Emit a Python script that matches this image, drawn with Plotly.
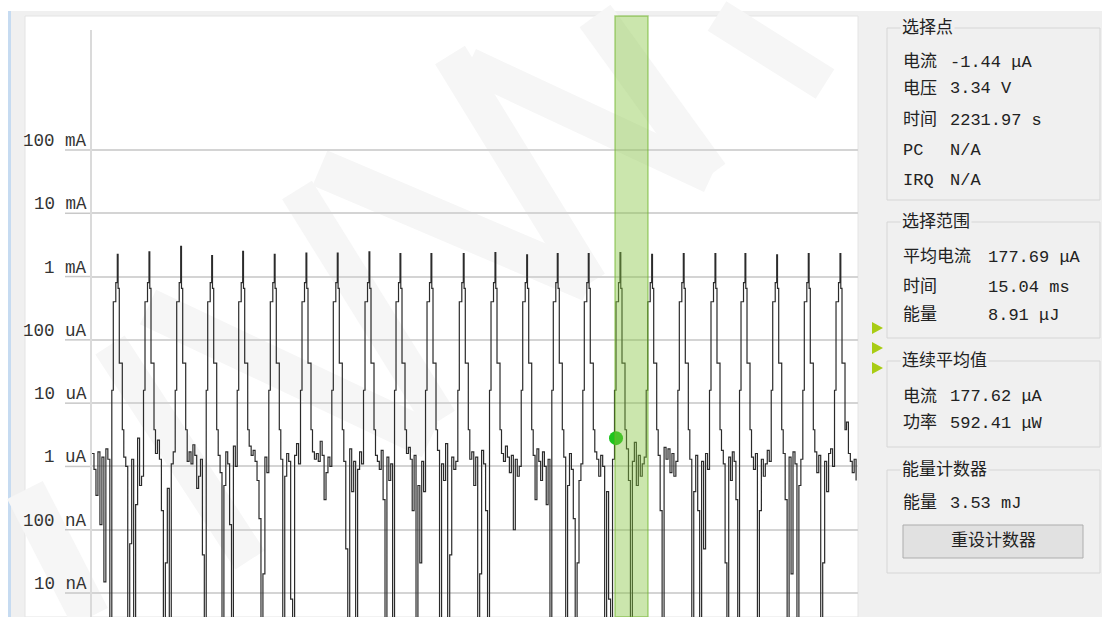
import math
import plotly.graph_objects as go

# ---------------- data ----------------
# pulse peak times (ms) and tip currents (mA)
peak_ms = [11.53, 25.98, 40.43, 54.56, 68.69, 83.09, 97.54, 111.81, 126.26, 140.39,
           154.52, 169.24, 183.69, 198.14, 212.08, 226.21, 240.66, 255.11, 269.52,
           283.96, 297.64, 312.09, 326.49, 340.94]
tip_mA = [2.25, 2.45, 3.0, 2.15, 2.5, 2.25, 2.35, 2.35, 2.45, 2.3, 2.3, 2.3, 2.4,
          2.2, 2.3, 2.3, 2.4, 2.25, 2.3, 2.3, 2.3, 2.2, 2.3, 2.3]
# pulse edge (time offset from peak in ms, current in uA; None = tip)
pulse_off_ms = [-2.5, -1.82, -0.68, 0.0, 0.36, 0.91, 2.28]
pulse_uA = [16, 400, 800, None, 650, 43, 3.8]
pulse_end_ms = 2.96
# baseline samples between pulses (uA); 0.001 = dips below the chart
gap_uA = [
    [1.6, 0.9, 0.35, 1.7, 0.12, 1.4, 0.015, 1.9, 1.3, 0.001],
    [1.4, 1.0, 0.001, 0.06, 1.3, 0.001, 0.25, 2.8, 0.5, 0.7],
    [1.6, 2.6, 1.3, 0.2, 0.001, 0.03, 0.45, 0.001, 1.1, 1.7],
    [1.2, 1.7, 1.1, 2.2, 1.5, 0.45, 0.7, 1.3, 0.04, 0.001],
    [1.5, 0.8, 0.001, 0.5, 1.7, 1.1, 0.12, 0.001, 2.1, 1.0],
    [2.1, 1.5, 1.8, 1.2, 0.6, 0.15, 0.001, 0.02, 1.4, 0.8],
    [1.3, 0.001, 0.7, 1.6, 1.2, 0.008, 0.001, 1.5, 2.3, 1.1],
    [1.7, 1.3, 1.6, 1.2, 2.5, 1.5, 0.3, 0.8, 1.4, 1.0],
    [1.2, 0.05, 0.001, 1.9, 0.4, 1.2, 0.001, 0.9, 1.7, 1.1],
    [1.5, 1.2, 0.9, 1.8, 0.3, 0.001, 1.4, 0.6, 1.1, 0.001],
    [1.6, 2.0, 1.3, 0.2, 1.5, 0.001, 0.5, 0.03, 1.2, 0.4],
    [1.8, 0.001, 1.1, 0.6, 2.3, 0.001, 0.04, 1.4, 0.9, 1.2],
    [1.3, 1.7, 0.5, 1.4, 0.001, 0.02, 1.8, 1.1, 0.2, 0.001],
    [1.6, 1.2, 2.1, 1.4, 0.8, 1.5, 0.1, 1.3, 0.7, 1.0],
    [1.5, 0.3, 1.9, 1.2, 0.6, 1.7, 1.0, 0.25, 1.3, 0.001],
    [1.4, 0.001, 0.5, 1.6, 0.9, 0.15, 0.001, 0.03, 0.6, 1.1],
    [1.7, 1.3, 0.7, 1.5, 1.0, 0.001, 0.4, 0.008, 0.001, 1.3],
    [1.9, 0.6, 0.001, 1.2, 2.4, 0.5, 1.5, 0.7, 1.1, 1.4],
    [1.5, 0.2, 0.001, 2.0, 1.3, 1.9, 0.8, 1.6, 0.7, 1.2],
    [1.3, 0.001, 0.4, 1.5, 0.2, 0.001, 1.2, 0.05, 1.6, 0.9],
    [1.8, 1.1, 0.03, 0.001, 1.4, 0.6, 1.7, 1.2, 0.3, 0.001],
    [1.4, 0.9, 1.6, 0.001, 0.2, 1.3, 0.7, 1.1, 1.8, 1.2],
    [1.6, 0.3, 0.001, 1.4, 0.02, 1.7, 1.1, 0.001, 0.5, 1.3],
    [1.7, 0.8, 1.5, 0.001, 0.03, 1.2, 0.4, 1.6, 1.9, 1.0],
    [5.0, 1.6, 1.2, 0.8, 1.3, 0.6],
]
x_end_ms = 349.14
sel_start_ms = 238.38
sel_dur_ms = 15.04
sel_point_ms = 238.84
sel_point_uA = 2.8

tick_exp = [-8, -7, -6, -5, -4, -3, -2, -1]
tick_text = ["10 nA", "100 nA", "1 uA", "10 uA", "100 uA", "1 mA", "10 mA", "100 mA"]
y_log_range = [-8.379, 0.896]

# ---------------- build the trace ----------------
t, cur = [], []
def add_gap(vals, start, end):
    n = len(vals)
    for i, v in enumerate(vals):
        t.append(start + i * (end - start) / n)
        cur.append(v * 1e-6)

add_gap(gap_uA[0], 0.0, peak_ms[0] + pulse_off_ms[0])
for k, pk in enumerate(peak_ms):
    for off, v in zip(pulse_off_ms, pulse_uA):
        t.append(pk + off)
        cur.append((tip_mA[k] * 1000 if v is None else v) * 1e-6)
    g_start = pk + pulse_end_ms
    g_end = peak_ms[k + 1] + pulse_off_ms[0] if k + 1 < len(peak_ms) else x_end_ms
    add_gap(gap_uA[k + 1], g_start, g_end)

# ---------------- layout helpers ----------------
W, H = 1102, 617
L_PX, R_PX, T_PX, B_PX = 92, 858, 30, 617
PW, PH = R_PX - L_PX, B_PX - T_PX
def px(x): return (x - L_PX) / PW
def py(y): return (B_PX - y) / PH
def ylog_paper(e): return (e - y_log_range[0]) / (y_log_range[1] - y_log_range[0])

FONT = "Liberation Mono, Noto Sans CJK SC, monospace"

shapes = []
def rect(x0, y0, x1, y1, fill=None, line=None, lw=1, layer="below"):
    shapes.append(dict(type="rect", xref="paper", yref="paper",
                       x0=px(x0), x1=px(x1), y0=py(y1), y1=py(y0),
                       fillcolor=fill or "rgba(0,0,0,0)",
                       line=dict(color=line or "rgba(0,0,0,0)", width=lw if line else 0),
                       layer=layer))

# window background
rect(8, 11, 1102, 617, fill="#f0f0f0")
rect(8, 11, 11, 617, fill="#c6dbf1")
rect(25, 16, 858, 617, fill="#ffffff", line="#e4e4e4")

# watermark bands
bands = [((450, 55), (590, 283), 35), ((469, 64), (711, 177), 33),
         ((595, 16), (710, 175), 38), ((717, 16), (825, 84), 35),
         ((320, 168), (590, 283), 38), ((297, 190), (440, 420), 35),
         ((148, 307), (430, 440), 38), ((110, 345), (250, 560), 35),
         ((25, 490), (90, 617), 40)]
for (x1, y1), (x2, y2), w in bands:
    dx, dy = x2 - x1, y2 - y1
    ln = math.hypot(dx, dy)
    nx, ny = -dy / ln * w / 2, dx / ln * w / 2
    pts = [(x1 + nx, y1 + ny), (x2 + nx, y2 + ny), (x2 - nx, y2 - ny), (x1 - nx, y1 - ny)]
    path = "M " + " L ".join(f"{px(a):.5f},{py(b):.5f}" for a, b in pts) + " Z"
    shapes.append(dict(type="path", xref="paper", yref="paper", path=path,
                       fillcolor="#f6f6f6", line=dict(width=0), layer="below"))

# gridline extensions under the unit labels
for e in tick_exp:
    yp = ylog_paper(e)
    shapes.append(dict(type="line", xref="paper", yref="paper", x0=px(65), x1=0,
                       y0=yp, y1=yp, line=dict(color="#c8c8c8", width=1.5), layer="below"))

# right panel group boxes
for (y0, y1) in [(28, 200), (222, 338), (361, 447), (470, 573)]:
    rect(887, y0, 1100, y1, line="#d6d6d6", lw=1)
# button
rect(903, 525, 1083, 558, fill="#e1e1e1", line="#adadad", lw=1)
# yellow-green markers
for yc in [328, 348, 368]:
    path = f"M {px(872):.5f},{py(yc-6):.5f} L {px(883):.5f},{py(yc):.5f} L {px(872):.5f},{py(yc+6):.5f} Z"
    shapes.append(dict(type="path", xref="paper", yref="paper", path=path,
                       fillcolor="#a8cc14", line=dict(width=0), layer="above"))

# selection band
shapes.append(dict(type="rect", xref="x", yref="paper", x0=sel_start_ms,
                   x1=sel_start_ms + sel_dur_ms, y0=0, y1=py(16),
                   fillcolor="rgba(130,195,60,0.42)",
                   line=dict(color="rgba(110,180,40,0.55)", width=1.5), layer="above"))

annotations = []
def txt(s, x, y, anchor="left", size=17, bg=None, color="#222222"):
    annotations.append(dict(text=s, xref="paper", yref="paper", x=px(x), y=py(y),
                            xanchor=anchor, yanchor="middle", showarrow=False,
                            font=dict(family=FONT, size=size, color=color),
                            bgcolor=bg or "rgba(0,0,0,0)", borderpad=1))

# y tick labels
for e, s in zip(tick_exp, tick_text):
    annotations.append(dict(text=s, xref="paper", yref="paper", x=px(89),
                            y=ylog_paper(e), xanchor="right", yanchor="bottom",
                            yshift=-3, showarrow=False,
                            font=dict(family=FONT, size=17.5, color="#333333")))

# panel text
for s, y in [("选择点", 28), ("选择范围", 222), ("连续平均值", 361), ("能量计数器", 470)]:
    txt(s, 900, y, bg="#f0f0f0")
for s, y in [("电流", 62), ("电压", 89), ("时间", 120), ("PC", 150), ("IRQ", 180),
             ("平均电流", 257), ("时间", 287), ("能量", 315),
             ("电流", 397), ("功率", 423), ("能量", 503)]:
    txt(s, 901, y)
for s, y in [("-1.44 μA", 62), ("3.34 V", 89), ("2231.97 s", 120), ("N/A", 150),
             ("N/A", 180), ("177.62 μA", 397), ("592.41 μW", 423), ("3.53 mJ", 503)]:
    txt(s, 948, y)
for s, y in [("177.69 μA", 257), ("15.04 ms", 287), ("8.91 μJ", 315)]:
    txt(s, 986, y)
txt("重设计数器", 993, 541, anchor="center")

# ---------------- figure ----------------
fig = go.Figure()
fig.add_trace(go.Scatter(x=t, y=cur, mode="lines",
                         line=dict(color="#2b2b2b", width=1.2, shape="hv"),
                         hoverinfo="skip"))
fig.add_trace(go.Scatter(x=[sel_point_ms], y=[sel_point_uA * 1e-6], mode="markers",
                         marker=dict(size=14, color="#1ec41e"), hoverinfo="skip"))

fig.update_layout(
    width=W, height=H,
    margin=dict(l=L_PX, r=W - R_PX, t=T_PX, b=H - B_PX),
    paper_bgcolor="#ffffff", plot_bgcolor="rgba(0,0,0,0)",
    showlegend=False, hovermode=False,
    xaxis=dict(range=[0, x_end_ms], visible=False, fixedrange=True),
    yaxis=dict(type="log", range=y_log_range, tickvals=[10 ** e for e in tick_exp],
               showticklabels=False, ticks="", showgrid=True, gridcolor="#d4d4d4",
               gridwidth=1.5, showline=True, linecolor="#dadada", linewidth=2,
               zeroline=False, fixedrange=True),
    shapes=shapes, annotations=annotations,
)
fig.write_html("out.html", config={"displayModeBar": False},
               post_script="document.body.style.margin='0';document.body.style.overflow='hidden';")
